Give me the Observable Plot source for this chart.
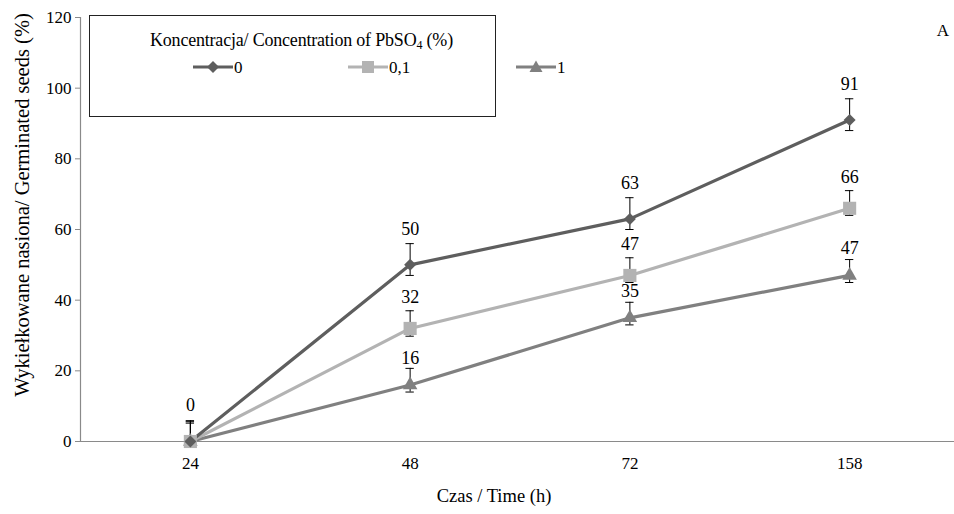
<!DOCTYPE html>
<html>
<head>
<meta charset="utf-8">
<script src="https://cdn.jsdelivr.net/npm/d3@7"></script>
<script src="https://cdn.jsdelivr.net/npm/@observablehq/plot@0.6"></script>
<style>
  html, body { margin: 0; padding: 0; background: #fff; font-family: 'Liberation Serif'; }
  #wrap { position: relative; width: 954px; height: 514px; font-family: 'Liberation Serif'; color: #000; }
  #wrap svg { display: block; font-family: 'Liberation Serif'; }
  #wrap svg text { font-family: 'Liberation Serif'; }
  .ov { position: absolute; white-space: nowrap; line-height: 1; font-family: 'Liberation Serif'; }
  #legend { position: absolute; left: 89px; top: 15px; width: 407px; height: 102px; border: 1px solid #222; box-sizing: border-box; background: #fff; }
</style>
</head>
<body>
<div id="wrap"></div>
<script>
// ---- data ----
const times = ["24", "48", "72", "158"];
const concentrations = ["0", "0,1", "1"];
const values0 = [0, 50, 63, 91];
const values01 = [0, 32, 47, 66];
const values1 = [0, 16, 35, 47];
const errHigh0 = [5.6, 56, 69, 97];
const errLow0 = [0, 47, 60, 88];
const errHigh01 = [5.9, 37, 52, 71];
const errLow01 = [0, 29.8, 45, 64];
const errHigh1 = [5.2, 20.7, 39.4, 51.5];
const errLow1 = [0, 14, 33, 45];
const yTicks = [0, 20, 40, 60, 80, 100, 120];

// ---- styles ----
const FONT = "Liberation Serif";
const colors = {"0": "#5e5e5e", "0,1": "#b3b3b3", "1": "#808080"};
const symbols = {"0": "diamond2", "0,1": "square", "1": "triangle"};
const radii = {"0": 5.4, "0,1": 7.4, "1": 5.4};
const labelDy = {"0": -36, "0,1": -31, "1": -27};

const seriesValues = [values0, values01, values1];
const seriesHigh = [errHigh0, errHigh01, errHigh1];
const seriesLow = [errLow0, errLow01, errLow1];

const rows = [];
concentrations.forEach((c, s) => {
  times.forEach((t, i) => {
    rows.push({series: c, t: i, time: t, value: seriesValues[s][i], hi: seriesHigh[s][i], lo: seriesLow[s][i]});
  });
});

// identical labels at the same point coincide; show one of them
const labelRows = rows.filter((d, k) => rows.findIndex(e => e.t === d.t && e.value === d.value) === k);

const capHalf = 0.019; // half cap width in index units

const marks = [
  Plot.ruleY([0], {stroke: "#8a8a8a", strokeWidth: 1.2}),
  Plot.ruleX([-0.5], {y1: 0, y2: 120, stroke: "#8a8a8a", strokeWidth: 1.2}),
  Plot.axisY({ticks: yTicks, tickSize: 5, tickPadding: 4, stroke: "#8a8a8a", fill: "#000", fontSize: 17, fontFamily: FONT, label: null}),
  Plot.axisX({ticks: [0, 1, 2, 3], tickFormat: (i) => times[i], tickSize: 0, tickPadding: 15, fill: "#000", fontSize: 17, fontFamily: FONT, label: null}),
  // error bars
  Plot.ruleX(rows, {x: "t", y1: "lo", y2: "hi", stroke: "#000", strokeWidth: 1}),
  Plot.ruleY(rows, {y: "hi", x1: (d) => d.t - capHalf, x2: (d) => d.t + capHalf, stroke: "#000", strokeWidth: 1}),
  Plot.ruleY(rows.filter(d => d.lo > 0), {y: "lo", x1: (d) => d.t - capHalf, x2: (d) => d.t + capHalf, stroke: "#000", strokeWidth: 1}),
];

concentrations.slice().reverse().forEach((c) => {
  const data = rows.filter(d => d.series === c);
  marks.push(Plot.line(data, {x: "t", y: "value", stroke: colors[c], strokeWidth: 3.2}));
});
concentrations.slice().reverse().forEach((c) => {
  const data = rows.filter(d => d.series === c);
  marks.push(Plot.dot(data, {x: "t", y: "value", symbol: symbols[c], r: radii[c], fill: colors[c], stroke: "none"}));
});
concentrations.forEach((c) => {
  const data = labelRows.filter(d => d.series === c);
  marks.push(Plot.text(data, {x: "t", y: "value", text: (d) => String(d.value), dy: (labelDy[c]), fontSize: 18, fontFamily: FONT, fill: "#000"}));
});

const chart = Plot.plot({
  width: 954,
  height: 514,
  marginLeft: 80,
  marginRight: -5,
  marginTop: 17,
  marginBottom: 73,
  style: {fontFamily: FONT, background: "#fff", overflow: "visible"},
  x: {type: "linear", domain: [-0.5, 3.5], axis: null},
  y: {domain: [0, 120], axis: null},
  marks
});

const wrap = document.getElementById("wrap");
wrap.appendChild(chart);

// legend (overlay inside plot area, as in the reference)
const legend = document.createElement("div");
legend.id = "legend";
legend.innerHTML = `
  <div class="ov" style="left:60px; top:15px; font-size:18px; letter-spacing:-0.2px;">Koncentracja/ Concentration of PbSO<sub style="font-size:12px; vertical-align:-3px;">4</sub> (%)</div>
`;
wrap.appendChild(legend);

const legendPos = [103, 258, 426];
concentrations.forEach((c, k) => {
  const item = document.createElement("div");
  item.className = "ov";
  item.style.left = legendPos[k] + "px";
  item.style.top = "42px";
  item.style.display = "flex";
  item.style.alignItems = "center";
  const sym = symbols[c];
  let shape = "";
  if (sym === "diamond2") shape = `<polygon points="20,3 26,9 20,15 14,9" fill="${colors[c]}"/>`;
  else if (sym === "square") shape = `<rect x="14" y="3" width="12" height="12" fill="${colors[c]}"/>`;
  else shape = `<polygon points="20,2.5 26.5,14 13.5,14" fill="${colors[c]}"/>`;
  item.innerHTML = `<svg width="40" height="18" style="display:block"><line x1="0" y1="9" x2="40" y2="9" stroke="${colors[c]}" stroke-width="3"/>${shape}</svg><span style="font-size:17px; margin-left:1px;">${c}</span>`;
  legend.appendChild(item);
});

// axis titles and panel letter
const yTitle = document.createElement("div");
yTitle.className = "ov";
yTitle.style.cssText = "left:22px; top:205px; font-size:20.5px; transform: translate(-50%,-50%) rotate(-90deg); font-family:'Liberation Serif';";
yTitle.textContent = "Wykiełkowane nasiona/ Germinated seeds (%)";
wrap.appendChild(yTitle);

const xTitle = document.createElement("div");
xTitle.className = "ov";
xTitle.style.cssText = "left:494px; top:496px; font-size:18.5px; transform: translate(-50%,-50%); font-family:'Liberation Serif';";
xTitle.textContent = "Czas / Time (h)";
wrap.appendChild(xTitle);

const panel = document.createElement("div");
panel.className = "ov";
panel.style.cssText = "left:943px; top:30px; font-size:17px; transform: translate(-50%,-50%); font-family:'Liberation Serif';";
panel.textContent = "A";
wrap.appendChild(panel);
</script>
</body>
</html>
